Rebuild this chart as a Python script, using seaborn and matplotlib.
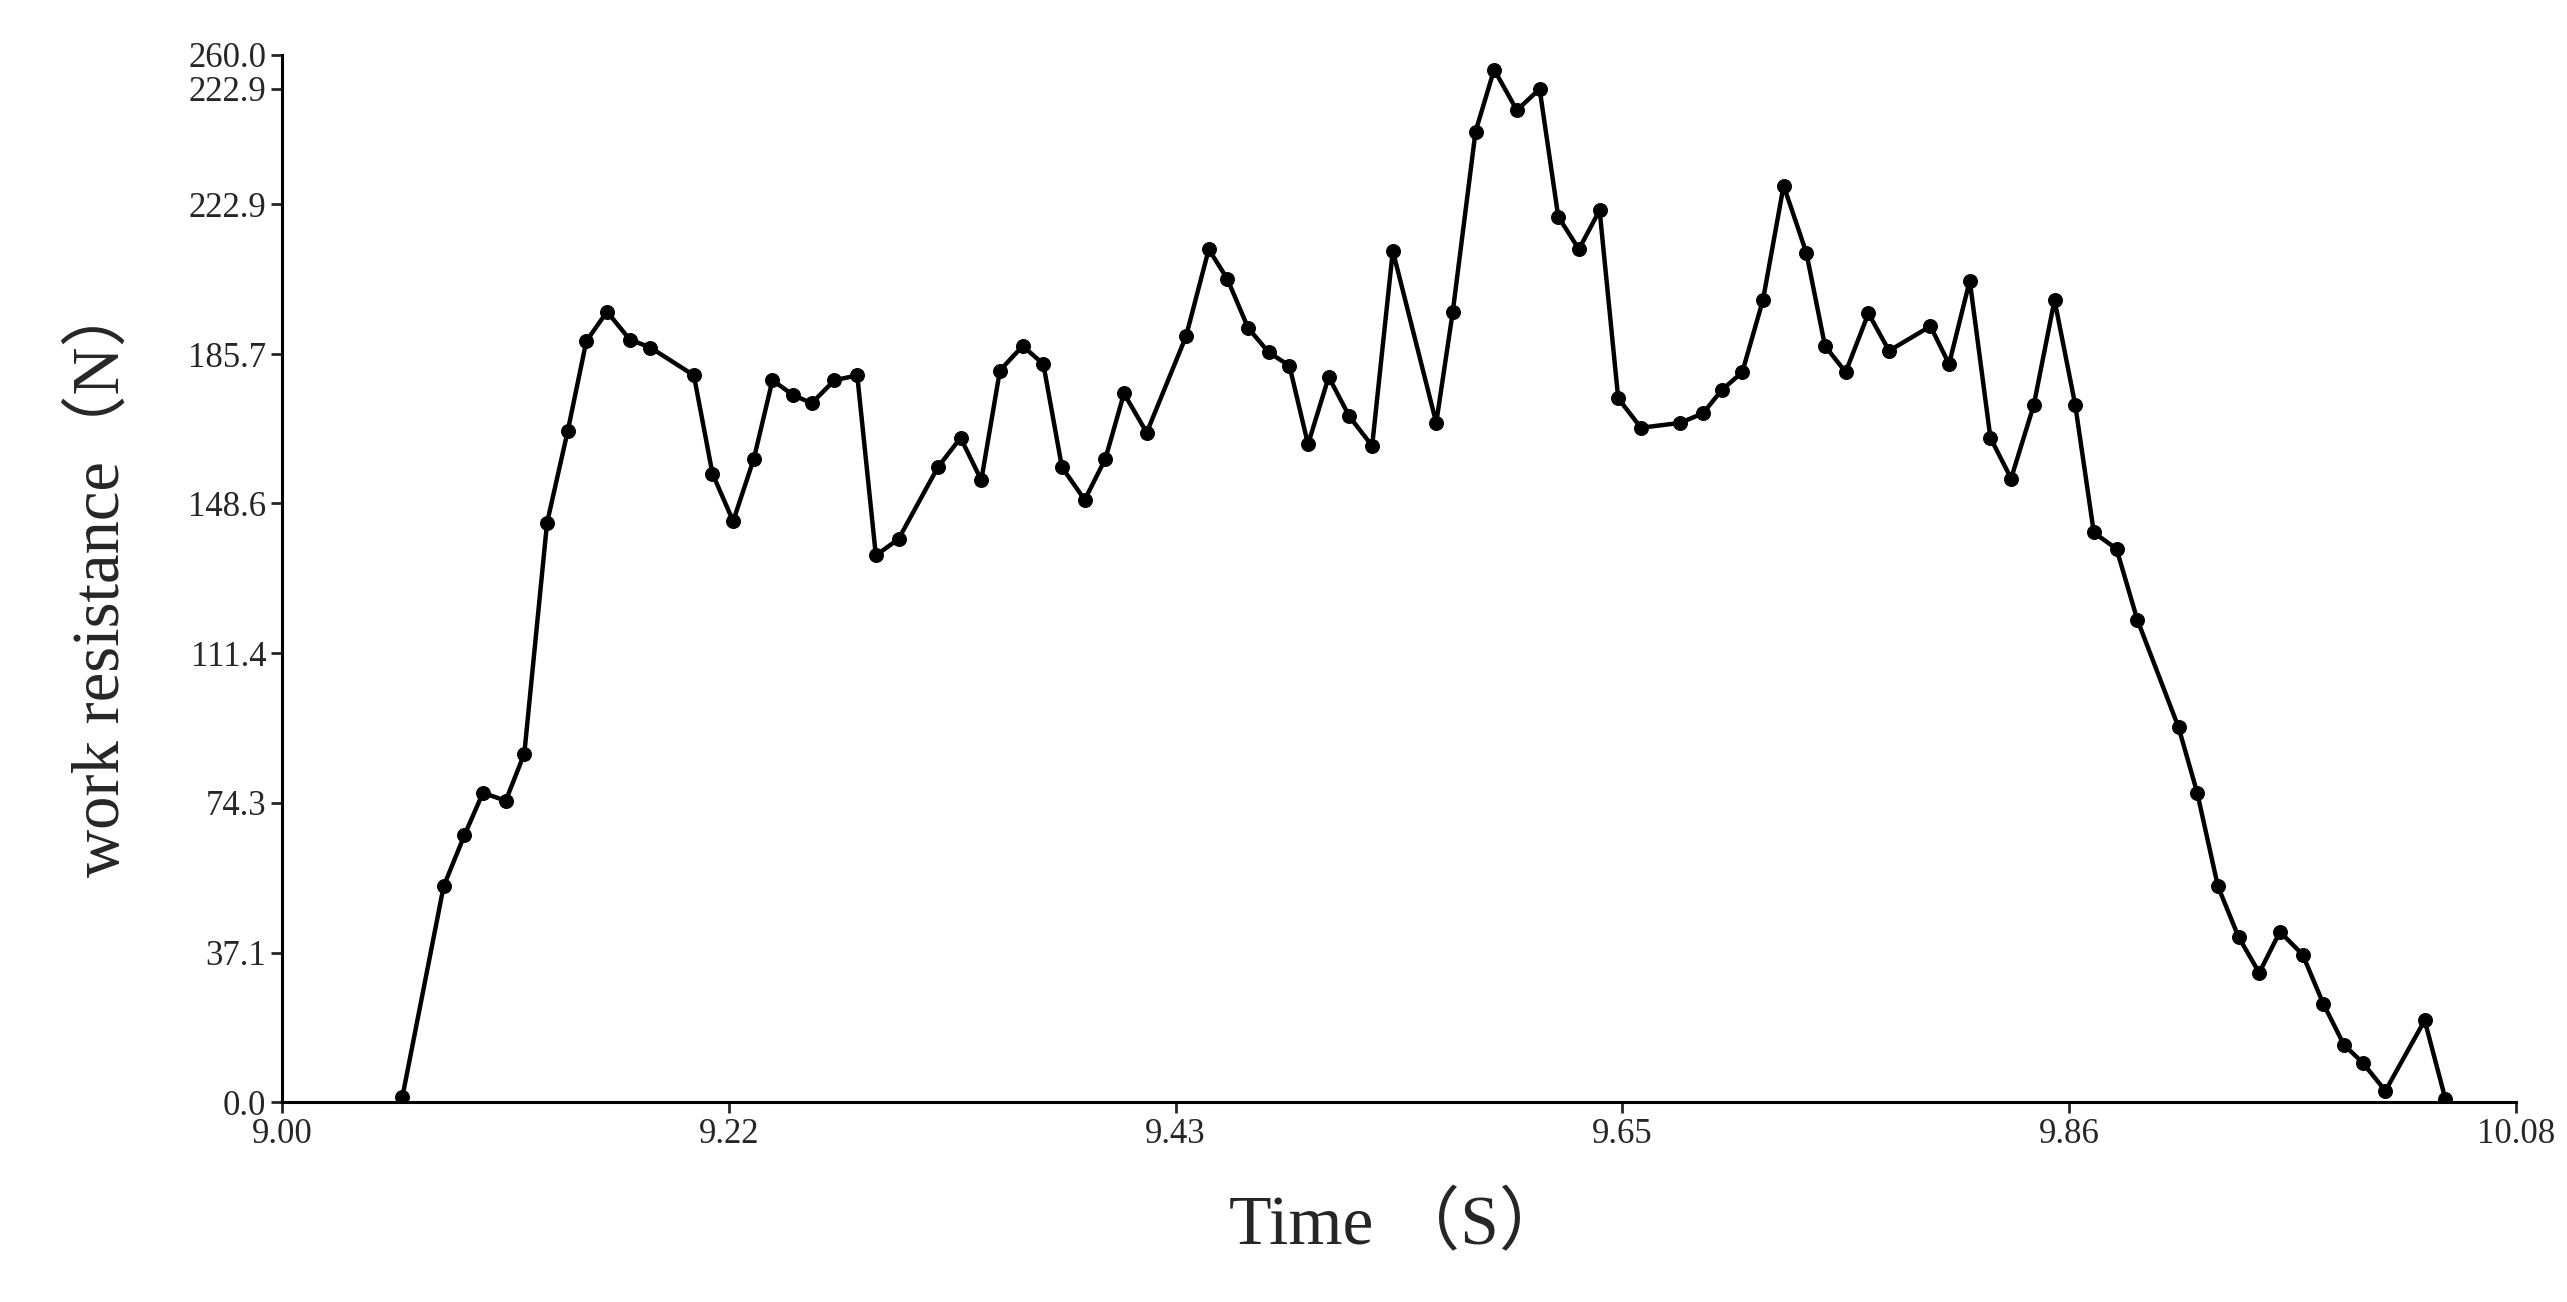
import matplotlib
matplotlib.use("Agg")
import matplotlib.pyplot as plt
import seaborn as sns
import pandas as pd

time_s = [9.058,9.078,9.088,9.097,9.108,9.117,9.128,9.138,9.147,9.157,9.168,9.178,9.199,9.208,9.218,9.228,9.237,9.247,9.256,9.267,9.278,9.287,9.298,9.317,9.328,9.338,9.347,9.358,9.368,9.377,9.388,9.398,9.407,9.418,9.437,9.448,9.457,9.467,9.477,9.487,9.496,9.506,9.516,9.527,9.537,9.558,9.566,9.577,9.586,9.597,9.608,9.617,9.627,9.637,9.646,9.657,9.676,9.687,9.696,9.706,9.716,9.726,9.737,9.746,9.756,9.767,9.777,9.797,9.806,9.816,9.826,9.836,9.847,9.857,9.867,9.876,9.887,9.897,9.917,9.926,9.936,9.946,9.956,9.966,9.977,9.987,9.997,10.006,10.017,10.036,10.046]
resistance = [1.2,53.6,66.2,76.8,74.8,86.5,143.8,166.6,188.9,196.2,189.3,187.3,180.4,156.0,144.2,159.7,179.2,175.5,173.5,179.2,180.4,135.7,139.8,157.6,164.9,154.4,181.6,187.7,183.2,157.6,149.5,159.7,175.9,166.2,190.1,211.7,204.3,192.2,186.1,182.8,163.3,180.0,170.2,162.9,211.3,168.6,196.2,240.9,256.3,246.2,251.5,219.8,211.7,221.4,174.7,167.4,168.6,171.0,176.7,181.2,199.1,227.5,210.8,187.7,181.2,195.8,186.5,192.6,183.2,203.9,164.9,154.8,173.1,199.1,173.1,141.4,137.3,119.8,93.0,76.8,53.6,41.0,32.1,42.3,36.6,24.4,14.2,9.8,2.8,20.3,0.8]
x_ticks = [9.00,9.216,9.432,9.648,9.864,10.08]
x_labels = ["9.00","9.22","9.43","9.65","9.86","10.08"]
y_ticks = [0,37.1,74.3,111.4,148.6,185.7,222.9,251.5,260.0]
y_labels = ["0.0","37.1","74.3","111.4","148.6","185.7","222.9","222.9","260.0"]

df = pd.DataFrame({"t": time_s, "v": resistance})
sns.set_style("white")
serif = ["Liberation Serif", "Noto Sans CJK SC", "DejaVu Sans"]
plt.rcParams["font.family"] = serif

fig = plt.figure(figsize=(25.67, 13.02), dpi=100)
ax = fig.add_axes([0.110, 0.1535, 0.870, 0.8045])
sns.lineplot(data=df, x="t", y="v", ax=ax, color="black", linewidth=3.2,
             marker="o", markersize=10, markeredgecolor="black")
ax.set_xlim(9.0, 10.08)
ax.set_ylim(0, 260)
ax.set_xticks(x_ticks)
ax.set_xticklabels(x_labels)
ax.set_yticks(y_ticks)
ax.set_yticklabels(y_labels)
ax.tick_params(axis="both", labelsize=25, direction="out", length=8, width=2, left=True, bottom=True)
for s in ["top", "right"]:
    ax.spines[s].set_visible(False)
for s in ["left", "bottom"]:
    ax.spines[s].set_linewidth(2.2)
    ax.spines[s].set_color("black")
ax.set_xlabel("Time （S）", fontsize=50, labelpad=30)
ax.set_ylabel("work resistance（N）", fontsize=48, labelpad=40)
fig.savefig("out.png", dpi=100)
